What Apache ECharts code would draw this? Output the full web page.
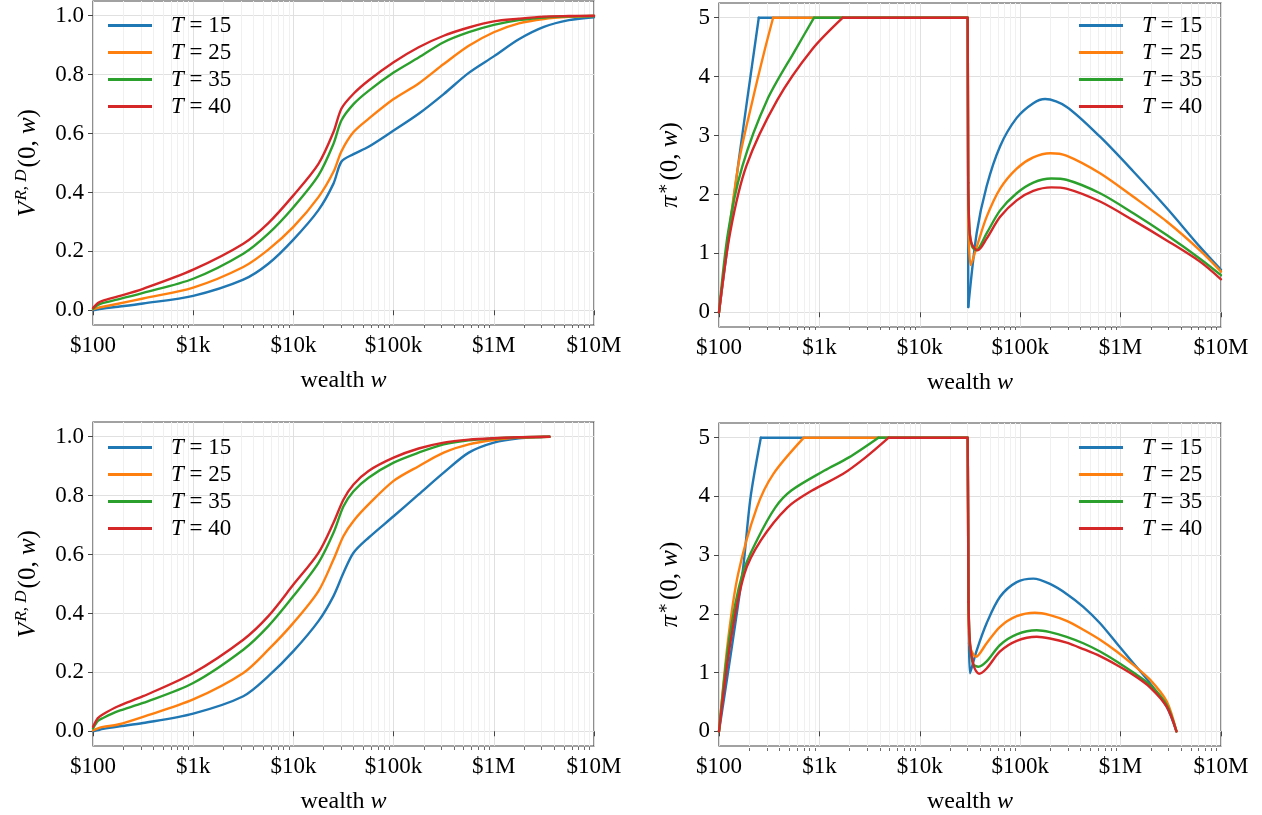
<!DOCTYPE html>
<html><head><meta charset="utf-8">
<script src="https://cdn.jsdelivr.net/npm/echarts@6/dist/echarts.min.js"></script>
<style>html,body{margin:0;padding:0;background:#fff}#c{width:1262px;height:815px}</style>
</head><body><div id="c"></div>
<script>
// ---------- data ----------
const seriesNames = ['T=15', 'T=25', 'T=35', 'T=40'];
const xTickValues = [100, 1000, 10000, 100000, 1000000, 10000000];
const xTickLabels = ['$100', '$1k', '$10k', '$100k', '$1M', '$10M'];
const xMinorTicks = [200,300,400,500,600,700,800,900,
  2000,3000,4000,5000,6000,7000,8000,9000,
  20000,30000,40000,50000,60000,70000,80000,90000,
  200000,300000,400000,500000,600000,700000,800000,900000,
  2000000,3000000,4000000,5000000,6000000,7000000,8000000,9000000];
const vTicks = [0, 0.2, 0.4, 0.6, 0.8, 1.0];
const piTicks = [0, 1, 2, 3, 4, 5];

// top-left: value function
const wealthTop = [100, 112, 126, 178, 316, 1000, 3162, 5623, 10000, 17783, 25119, 30200, 39811, 56234, 100000, 177828, 316228, 562341, 1000000, 1778279, 3162278, 5623413, 10000000];
const vTop15 = [0.0, 0.003, 0.006, 0.012, 0.023, 0.049, 0.104, 0.158, 0.24, 0.34, 0.43, 0.505, 0.53, 0.555, 0.61, 0.667, 0.734, 0.806, 0.862, 0.92, 0.962, 0.985, 0.995];
const vTop25 = [0.003, 0.008, 0.012, 0.022, 0.04, 0.077, 0.147, 0.206, 0.283, 0.384, 0.47, 0.54, 0.605, 0.65, 0.717, 0.77, 0.836, 0.898, 0.944, 0.974, 0.989, 0.996, 0.999];
const vTop35 = [0.005, 0.018, 0.025, 0.037, 0.059, 0.107, 0.192, 0.26, 0.35, 0.458, 0.565, 0.645, 0.70, 0.745, 0.807, 0.858, 0.91, 0.944, 0.969, 0.985, 0.994, 0.998, 0.999];
const vTop40 = [0.008, 0.025, 0.033, 0.047, 0.073, 0.138, 0.226, 0.296, 0.39, 0.497, 0.605, 0.685, 0.735, 0.78, 0.842, 0.893, 0.932, 0.96, 0.981, 0.99, 0.997, 0.999, 1.0];

// bottom-left: value function
const wealthBot = [100, 112, 126, 178, 316, 1000, 3162, 5623, 10000, 17783, 25119, 31623, 39811, 56234, 100000, 177828, 316228, 562341, 1000000, 1778279, 3162278, 3600000];
const vBot15 = [0.0, 0.004, 0.008, 0.016, 0.028, 0.06, 0.119, 0.187, 0.272, 0.374, 0.459, 0.538, 0.606, 0.657, 0.73, 0.804, 0.878, 0.946, 0.98, 0.995, 0.999, 1.0];
const vBot25 = [0.003, 0.01, 0.015, 0.023, 0.049, 0.108, 0.198, 0.277, 0.368, 0.476, 0.583, 0.663, 0.714, 0.77, 0.85, 0.9, 0.946, 0.974, 0.989, 0.997, 0.999, 1.0];
const vBot35 = [0.01, 0.035, 0.045, 0.068, 0.096, 0.164, 0.277, 0.357, 0.459, 0.572, 0.674, 0.764, 0.815, 0.861, 0.912, 0.946, 0.974, 0.988, 0.994, 0.998, 1.0, 1.0];
const vBot40 = [0.015, 0.045, 0.058, 0.085, 0.119, 0.198, 0.311, 0.391, 0.498, 0.606, 0.708, 0.787, 0.838, 0.884, 0.929, 0.96, 0.98, 0.99, 0.995, 0.998, 1.0, 1.0];

// top-right: optimal policy [wealth, pi]
const piTop15 = [[100,0],[158,2.6],[249,5],[30000,5],[30400,0.09],[36900,1.35],[46300,2.14],[63100,2.82],[92300,3.3],[135000,3.55],[177000,3.62],[288000,3.49],[624000,2.98],[1340000,2.39],[2880000,1.77],[6170000,1.11],[10000000,0.72]];
const piTop25 = [[100,0],[155,2.48],[216,3.6],[286,4.46],[346,5],[30000,5],[30340,1.6],[32140,0.8],[36900,1.11],[46300,1.62],[63100,2.1],[92300,2.44],[135000,2.63],[200000,2.7],[288000,2.66],[624000,2.36],[1340000,1.96],[2880000,1.54],[6170000,1.05],[10000000,0.69]];
const piTop35 = [[100,0],[123,1.35],[171,2.48],[301,3.6],[579,4.46],[885,5],[30000,5],[30340,2.2],[31260,1.4],[33110,1.12],[36310,1.05],[46300,1.34],[63100,1.73],[92300,2.02],[135000,2.2],[204000,2.27],[288000,2.25],[624000,2.02],[1340000,1.68],[2880000,1.31],[6170000,0.91],[10000000,0.63]];
const piTop40 = [[100,0],[129,1.35],[187,2.48],[380,3.6],[845,4.46],[1710,5],[30000,5],[30340,2.2],[31260,1.4],[33110,1.15],[37580,1.05],[46300,1.25],[63100,1.62],[92300,1.9],[135000,2.06],[204000,2.12],[288000,2.1],[624000,1.88],[1340000,1.56],[2880000,1.22],[6170000,0.86],[10000000,0.56]];

// bottom-right: optimal policy [wealth, pi]
const piBot15 = [[100,0],[171,2.68],[206,3.98],[261,5],[30000,5],[30900,1.5],[31620,0.99],[33110,1.1],[36900,1.38],[46300,1.84],[63000,2.29],[92300,2.54],[135000,2.6],[198000,2.51],[290000,2.34],[425000,2.12],[624000,1.84],[914000,1.5],[1340000,1.16],[1963000,0.82],[2877000,0.42],[3600000,0]];
const piBot25 = [[100,0],[123,1.55],[155,2.68],[238,3.81],[347,4.38],[700,5],[30000,5],[30550,2.0],[31620,1.45],[36310,1.27],[46300,1.5],[63000,1.78],[92300,1.96],[140000,2.02],[198000,1.98],[290000,1.88],[425000,1.73],[624000,1.56],[914000,1.36],[1340000,1.13],[1963000,0.88],[2877000,0.51],[3600000,0]];
const piBot35 = [[100,0],[126,1.55],[171,2.68],[238,3.25],[363,3.81],[525,4.1],[1122,4.44],[1950,4.66],[3873,5],[30000,5],[30550,2.2],[31620,1.5],[33880,1.15],[38280,1.1],[46300,1.19],[63000,1.47],[92300,1.65],[146000,1.72],[198000,1.69],[290000,1.61],[425000,1.5],[624000,1.36],[914000,1.19],[1340000,1.0],[1963000,0.79],[2877000,0.45],[3600000,0]];
const piBot40 = [[100,0],[131,1.55],[179,2.68],[261,3.25],[479,3.81],[845,4.1],[1710,4.38],[2864,4.66],[4898,5],[30000,5],[30550,2.2],[31620,1.5],[34670,1.1],[38900,0.98],[46300,1.07],[63000,1.36],[92300,1.54],[146000,1.61],[198000,1.58],[290000,1.51],[425000,1.4],[624000,1.28],[914000,1.13],[1340000,0.96],[1963000,0.75],[2877000,0.42],[3600000,0]];

// ---------- style ----------
const colors = ['#1f77b4', '#ff7f0e', '#2ca02c', '#d62728'];
const F = "'Liberation Serif', 'DejaVu Serif', serif";
const frameColor = '#444';
const majorGrid = '#e0e0e0';
const minorGrid = '#f0f0f0';
const tickFont = 23;

const grids = [
  {left: 93, top: 1, width: 501, height: 324},
  {left: 719, top: 3, width: 502, height: 324},
  {left: 93, top: 422, width: 501, height: 325},
  {left: 719, top: 423, width: 502, height: 325}
];

function richName(size) {
  return {
    n: {fontFamily: F, fontSize: size, color: '#000', lineHeight: size + 8},
    i: {fontFamily: F, fontSize: size, color: '#000', fontStyle: 'italic', lineHeight: size + 8},
    s: {fontFamily: F, fontSize: Math.round(size * 0.68), color: '#000', fontStyle: 'italic', verticalAlign: 'top', lineHeight: Math.round(size * 0.68), padding: [1, 2, 0, 1]}
  };
}

const xAxes = [], yAxes = [], series = [], legends = [];
grids.forEach((g, gi) => {
  xAxes.push({
    type: 'log', logBase: 10, gridIndex: gi, min: 100, max: 10000000, position: 'bottom',
    name: '{n|wealth }{i|w}', nameLocation: 'middle', nameGap: 40,
    nameTextStyle: {rich: richName(24)},
    axisLine: {show: false},
    axisTick: {show: true, length: 5, customValues: xTickValues, lineStyle: {color: frameColor, width: 1}},
    axisLabel: {customValues: xTickValues, margin: 9, fontFamily: F, fontSize: tickFont, color: '#000',
      formatter: v => xTickLabels[Math.round(Math.log10(v)) - 2]},
    splitLine: {show: true, lineStyle: {color: majorGrid, width: 1}}
  });
});
grids.forEach((g, gi) => {
  // minor ticks / minor grid: secondary axis moved onto the bottom edge
  xAxes.push({
    type: 'log', logBase: 10, gridIndex: gi, min: 100, max: 10000000, position: 'top', offset: -g.height,
    axisLine: {show: false}, axisLabel: {show: false},
    axisTick: {show: true, inside: true, length: 3, customValues: xMinorTicks, lineStyle: {color: frameColor, width: 0.8}},
    splitLine: {show: true, lineStyle: {color: minorGrid, width: 1}}
  });
});
grids.forEach((g, gi) => {
  const isV = (gi === 0 || gi === 2);
  const ticks = isV ? vTicks : piTicks;
  yAxes.push({
    type: 'value', gridIndex: gi,
    min: isV ? -0.05 : -0.25, max: isV ? 1.05 : 5.25,
    name: isV ? '{i|V}{s|R, D}{n|(0, }{i|w}{n|)}' : '{i|π}{s|∗}{n|(0, }{i|w}{n|)}',
    nameLocation: 'middle', nameGap: isV ? 48 : 32, nameRotate: 90,
    nameTextStyle: {rich: richName(25)},
    axisLine: {show: false},
    axisTick: {show: true, length: 5, customValues: ticks, lineStyle: {color: frameColor, width: 1}},
    axisLabel: {customValues: ticks, margin: 9, fontFamily: F, fontSize: tickFont, color: '#000',
      formatter: v => isV ? v.toFixed(1) : String(Math.round(v))},
    splitLine: {show: true, lineStyle: {color: majorGrid, width: 1}}
  });
});

const leftData = [[wealthTop, [vTop15, vTop25, vTop35, vTop40]], null, [wealthBot, [vBot15, vBot25, vBot35, vBot40]], null];
const rightData = [null, [piTop15, piTop25, piTop35, piTop40], null, [piBot15, piBot25, piBot35, piBot40]];

function lineSeries(gi, k, data, smooth) {
  return {
    type: 'line', name: seriesNames[k], xAxisIndex: gi, yAxisIndex: gi, data: data,
    showSymbol: false, symbol: 'none', smooth: smooth,
    lineStyle: {width: 2.4, color: colors[k], cap: 'round', join: 'round'}, itemStyle: {color: colors[k]},
    z: 3 + k, animation: false
  };
}

grids.forEach((g, gi) => {
  for (let k = 0; k < 4; k++) {
    if (leftData[gi]) {
      const w = leftData[gi][0], v = leftData[gi][1][k];
      series.push(lineSeries(gi, k, w.map((x, i) => [x, v[i]]), 0.3));
    } else {
      // the policy is capped at 5: draw the rise, the capped plateau and the hump as separate pieces
      const d = rightData[gi][k];
      let first = -1, last = -1;
      d.forEach((p, i) => { if (p[1] >= 5) { if (first < 0) first = i; last = i; } });
      series.push(lineSeries(gi, k, d.slice(0, first + 1), 0.3));
      series.push(lineSeries(gi, k, d.slice(first, last + 2), false));
      series.push(lineSeries(gi, k, d.slice(last + 1), 0.3));
    }
  }
  const legLeft = (gi === 0 || gi === 2) ? 108 : 1079;
  const legTop = gi < 2 ? 14 : 436;
  legends.push({
    orient: 'vertical', left: legLeft, top: legTop, padding: 0, itemGap: 4, itemWidth: 44, itemHeight: 3,
    icon: 'rect', selectedMode: false, data: seriesNames,
    formatter: name => '{i|T}{n| = ' + name.split('=')[1] + '}',
    textStyle: {fontFamily: F, fontSize: tickFont, color: '#000', padding: [0, 0, 0, 14],
      rich: {i: {fontFamily: F, fontSize: tickFont, fontStyle: 'italic', color: '#000'}, n: {fontFamily: F, fontSize: tickFont, color: '#000'}}}
  });
});

const chart = echarts.init(document.getElementById('c'), null, {renderer: 'canvas'});
chart.setOption({
  backgroundColor: '#fff',
  animation: false,
  grid: grids.map(g => Object.assign({show: true, borderColor: frameColor, borderWidth: 1.2, backgroundColor: 'transparent', containLabel: false}, g)),
  xAxis: xAxes, yAxis: yAxes, legend: legends, series: series
});
</script></body></html>
